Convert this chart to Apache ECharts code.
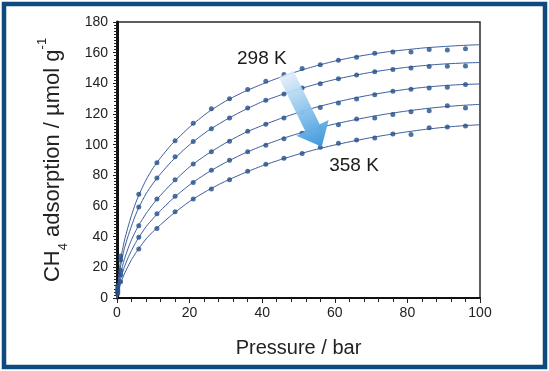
<!DOCTYPE html>
<html>
<head>
<meta charset="utf-8">
<script src="https://cdn.jsdelivr.net/npm/echarts@6/dist/echarts.min.js"></script>
<style>
html,body{margin:0;padding:0;background:#fff;}
#c{width:549px;height:371px;}
</style>
</head>
<body>
<div id="c"></div>
<script>
// Measured pressures (bar)
var pressure = [0.2, 1, 6, 11, 16, 21, 26, 31, 36, 41, 46, 51, 56, 61, 66, 71, 76, 81, 86, 91, 96];
// Measured CH4 uptake (µmol/g), 298 K ... 358 K
var ads298 = [8, 27.4, 67.6, 88.2, 102.6, 113.9, 123.5, 129.9, 136.0, 141.3, 145.7, 149.7, 152.2, 155.0, 157.0, 159.6, 160.4, 160.4, 162.0, 161.7, 162.6];
var ads313 = [6.5, 24.8, 59.3, 78.3, 92.2, 102.0, 110.4, 117.4, 123.9, 128.9, 133.0, 137.0, 139.8, 143.0, 145.4, 147.6, 149.1, 150.0, 150.9, 151.1, 151.3];
var ads328 = [5, 18.0, 47.2, 64.6, 77.2, 87.4, 95.4, 102.2, 108.7, 113.3, 117.4, 121.1, 124.3, 127.2, 129.8, 132.6, 134.8, 136.1, 137.0, 137.4, 139.3];
var ads343 = [4, 15.0, 39.6, 55.0, 66.3, 75.4, 83.3, 89.8, 95.4, 99.6, 103.9, 107.4, 111.3, 113.0, 116.7, 117.4, 119.6, 121.5, 122.2, 125.4, 123.9];
var ads358 = [3, 10.6, 32.0, 45.4, 56.3, 64.6, 71.1, 77.2, 82.6, 87.2, 91.1, 94.3, 98.3, 100.9, 103.0, 104.3, 107.0, 106.7, 111.1, 111.5, 112.2];
// Fitted isotherm curves
var fitP   = [0, 0.5, 1, 2, 3, 4, 5, 6, 8, 10, 12, 15, 20, 25, 30, 35, 40, 45, 50, 55, 60, 65, 70, 75, 80, 85, 90, 95, 100];
var fit298 = [0, 15, 25, 37, 46, 54, 61, 67, 77, 85, 91.5, 100, 111.5, 121, 128.5, 134.5, 139.5, 144, 148, 151.5, 154.5, 157, 159, 160.7, 162, 163.2, 164, 164.7, 165.2];
var fit313 = [0, 12, 21, 32, 40, 47, 53.5, 59, 68, 75, 81, 89, 100, 109, 116.2, 122.5, 128, 132.3, 136.2, 139.5, 142.5, 145, 147.2, 149, 150.5, 151.7, 152.6, 153.2, 153.6];
var fit328 = [0, 9, 16, 25, 32, 38, 43, 47.5, 55, 61.5, 67, 74.5, 85.5, 94, 101.2, 107.5, 112.5, 117, 121, 124.5, 127.5, 130.2, 132.5, 134.5, 136.2, 137.5, 138.5, 139.2, 139.6];
var fit343 = [0, 7, 12.5, 20, 26, 31, 35.5, 39.5, 46.5, 52, 57, 64, 73.8, 81.8, 88.5, 94.3, 99.2, 103.5, 107.3, 110.6, 113.5, 116, 118.3, 120.3, 122, 123.5, 124.7, 125.6, 126.3];
var fit358 = [0, 5, 9.5, 15.5, 20.5, 25, 28.8, 32.2, 38.5, 43.5, 47.8, 54, 63, 70.2, 76.3, 81.5, 86.2, 90.2, 93.8, 97, 99.8, 102.3, 104.6, 106.6, 108.4, 110, 111.3, 112.3, 113];
var xTicks = [0, 20, 40, 60, 80, 100];
var yTicks = [0, 20, 40, 60, 80, 100, 120, 140, 160, 180];
var labelHigh = '298 K', labelLow = '358 K';
var arrowFrom = [46.6, 146], arrowTo = [56.4, 98.7];
var labelHighPos = [39.9, 155.9], labelLowPos = [65.3, 86.4];

var FONT = 'Liberation Sans, Arial, Helvetica, sans-serif';
var ptColor = '#244f8a', lineColor = '#3b5c9c';

function pairs(xs, ys){ return xs.map(function(x,i){ return [x, ys[i]]; }); }

var measured = [ads298, ads313, ads328, ads343, ads358];
var fits = [fit298, fit313, fit328, fit343, fit358];
var series = [];
fits.forEach(function(f){
  series.push({type:'line', data: pairs(fitP, f), smooth: 0.2, showSymbol:false,
    lineStyle:{color: lineColor, width:1}, silent:true, z:2});
});
measured.forEach(function(m){
  series.push({type:'scatter', data: pairs(pressure, m), symbol:'circle', symbolSize:5,
    itemStyle:{color: ptColor}, z:3});
});

var chart = echarts.init(document.getElementById('c'), null, {renderer:'canvas'});
chart.setOption({
  animation:false,
  backgroundColor:'#ffffff',
  grid:{left:117, right:69, top:22, bottom:73, show:true, borderColor:'#2a2a2a', borderWidth:1.5, backgroundColor:'#fff'},
  xAxis:{type:'value', min:xTicks[0], max:xTicks[xTicks.length-1], interval:20,
    name:'Pressure / bar', nameLocation:'middle', nameGap:40,
    nameTextStyle:{fontFamily:FONT, fontSize:20, color:'#222'},
    axisLine:{show:true, onZero:false, lineStyle:{color:'#111', width:2.2}},
    axisTick:{show:true, inside:false, length:5, lineStyle:{color:'#222', width:1}},
    minorTick:{show:true, splitNumber:5, length:4, lineStyle:{color:'#222', width:1}},
    axisLabel:{fontFamily:FONT, fontSize:14, color:'#222', margin:8},
    splitLine:{show:false}},
  yAxis:{type:'value', min:yTicks[0], max:yTicks[yTicks.length-1], interval:20,
    name:'{a|CH}{sub|4}{a| adsorption / µmol g}{sup|-1}', nameLocation:'middle', nameGap:47, nameRotate:90,
    nameTextStyle:{fontFamily:FONT, color:'#222', rich:{
      a:{fontFamily:FONT, fontSize:22, color:'#222', lineHeight:28},
      sub:{fontFamily:FONT, fontSize:13, color:'#222', verticalAlign:'bottom', lineHeight:22},
      sup:{fontFamily:FONT, fontSize:13, color:'#222', verticalAlign:'top', lineHeight:34}
    }},
    axisLine:{show:true, onZero:false, lineStyle:{color:'#111', width:3}},
    axisTick:{show:true, inside:false, length:4, lineStyle:{color:'#222', width:1}},
    minorTick:{show:true, splitNumber:10, length:3, lineStyle:{color:'#222', width:1}},
    axisLabel:{fontFamily:FONT, fontSize:14, color:'#222', margin:9},
    splitLine:{show:false}},
  series: series
});

function px(p){ return chart.convertToPixel({gridIndex:0}, p); }
var a = px(arrowFrom), b = px(arrowTo);
var dx = b[0]-a[0], dy = b[1]-a[1], L = Math.sqrt(dx*dx+dy*dy);
var ux = dx/L, uy = dy/L, nx = -uy, ny = ux;
var sw = 8, hw = 18, hl = 21;
var nk = [b[0]-ux*hl, b[1]-uy*hl];
var poly = [
  [a[0]+nx*sw, a[1]+ny*sw],
  [nk[0]+nx*sw, nk[1]+ny*sw],
  [nk[0]+nx*hw, nk[1]+ny*hw],
  [b[0], b[1]],
  [nk[0]-nx*hw, nk[1]-ny*hw],
  [nk[0]-nx*sw, nk[1]-ny*sw],
  [a[0]-nx*sw, a[1]-ny*sw]
];
var grad = new echarts.graphic.LinearGradient(a[0], a[1], b[0], b[1], [
  {offset:0, color:'rgba(225,238,250,0.9)'},
  {offset:0.5, color:'rgba(140,195,235,0.95)'},
  {offset:1, color:'#3c98dc'}
], true);
var lh = px(labelHighPos), ll = px(labelLowPos);
chart.setOption({graphic:[
  {type:'polygon', shape:{points:poly}, style:{fill:grad}, z:10},
  {type:'text', x:lh[0], y:lh[1], style:{text:labelHigh, fontFamily:FONT, fontSize:19, fill:'#1a1a1a', align:'center', verticalAlign:'middle'}, z:11},
  {type:'text', x:ll[0], y:ll[1], style:{text:labelLow, fontFamily:FONT, fontSize:19, fill:'#1a1a1a', align:'center', verticalAlign:'middle'}, z:11},
  {type:'rect', shape:{x:4, y:4, width:541, height:363}, style:{fill:'none', stroke:'#0e4a7e', lineWidth:4.5}, z:20, silent:true}
]});
</script>
</body>
</html>
